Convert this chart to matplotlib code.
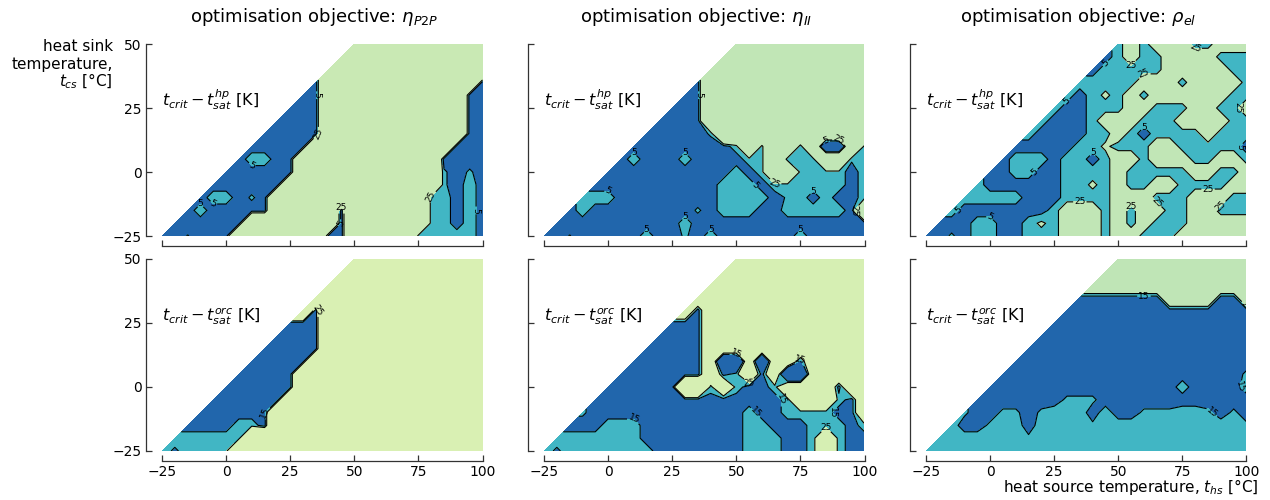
import numpy as np
import matplotlib
matplotlib.use('Agg')
import matplotlib.pyplot as plt

# grid: heat source temperature (x) and heat sink temperature (y), 5 K steps
x_vals = np.arange(-25, 101, 5)
y_rows = np.arange(50, -26, -5)   # rows listed from top (50) to bottom (-25)

titles = [r'optimisation objective: $\eta_{P2P}$',
          r'optimisation objective: $\eta_{II}$',
          r'optimisation objective: $\rho_{el}$']
row_labels = [r'$t_{crit} - t_{sat}^{hp}$ [K]', r'$t_{crit} - t_{sat}^{orc}$ [K]']
levels_hp = [5, 25]
levels_orc = [15, 25]
xticks = [-25, 0, 25, 50, 75, 100]
yticks = [-25, 0, 25, 50]

# class codes per grid point (only valid points x >= y, row y=50 first)
hp_p2p = ["ccccccccccc", "cccccccccccc", "ccccccccccccc", "acccccccccccca",
          "aacccccccccccaa", "aaacccccccccccaa", "aaaacccccccccccaa",
          "aaaaacccccccccccaa", "aaaaacccccccccccaaa", "abbaacccccccccccaaaa",
          "aaaaaaccccccccccctata",
          "aaaaaa" + "cccccccccccc" + "taba",
          "abbata" + "cccccccccccc" + "bbaba",
          "abaaaaa" + "ccccc" + "a" + "cccccc" + "bbaba",
          "aaaaaa" + "ccccccc" + "a" + "cccccc" + "bbaba",
          "aasaaa" + "ccccccc" + "aa" + "ccccc" + "bbbbba"]
hp_ii = ["c" * 11, "c" * 12, "c" * 13, "a" + "c" * 13, "aa" + "c" * 13,
         "aaa" + "c" * 13, "aaaa" + "c" * 13, "aaaaa" + "t" + "c" * 12,
         "aaaaaaaa" + "bcbcctcAAcb", "abaaabaaaa" + "bbctbbcctb",
         "a" * 10 + "babccbbbbab", "a" * 10 + "bbbabbbbbbab",
         "bbb" + "a" * 8 + "bbbb" + "atbabaab",
         "ab" + "a" * 8 + "tabbbaa" + "bbbbb" + "ac",
         "a" * 10 + "b" + "a" * 14,
         "aasaaaaabaataba" + "aaaaa" + "b" + "aaaaa"]
hp_el = ["bcbcccbbccc", "abcbbccccbbb", "abbbbbcccccbb", "bbbbbcccbccccb",
         "babkbcbccccccbb", "baabbbccbbbccbbc", "baaabcccbbbccccbb",
         "baaaabbcbabbbbcbbb", "aaaaabbkbbbccbbbbba", "abbbabbabccbcccbbccb",
         "aabbaabbbbcbbbbbccbbc",
         "baaaaaabbkbc" + "bbccbbbbcc",
         "bbbbbaaabbbbc" + "ccbbbcccbb",
         "baaaaaaabcccbc" + "bccbbccbbb",
         "aaabbaabkbcccbc" + "bcbbbccccc",
         "aatabbaabbbcccbc" + "cbbbcccccc"]
orc_p2p = ["c" * 11, "c" * 12, "c" * 13, "c" * 14, "ca" + "c" * 13,
           "aaa" + "c" * 13, "aaaa" + "c" * 13, "aaaaa" + "c" * 13,
           "aaaaa" + "c" * 14, "aaaaa" + "c" * 15, "aaaaaa" + "c" * 15,
           "aaaaaa" + "c" * 16, "aaaaaa" + "c" * 17, "aaaabba" + "c" * 17,
           "bbbbbb" + "c" * 19, "bwbbbb" + "c" * 20]
orc_ii = ["c" * 11, "c" * 12, "c" * 13, "c" * 14, "ca" + "c" * 13,
          "aaa" + "c" * 13, "aaaa" + "c" * 13, "aaaaa" + "c" * 13,
          "aaaaaa" + "cAAcAccaccccc", "aaaaaaa" + "cabcacAAccccc",
          "aaaaaa" + "CCbcbaabccccacc", "a" * 15 + "bcccbac",
          "t" + "a" * 12 + "baabbbbaac",
          "aaabbba" + "a" * 7 + "bbaaabbbab",
          "bbbbbbba" + "a" * 7 + "bbbaabcbaa",
          "bwbbbbbbb" + "aaaaaaa" + "bbbaabcbaa"]
orc_el = ["c" * 11, "c" * 12, "c" * 13, "aaaaaaa" + "cccc" + "aa" + "c",
          "a" * 15, "a" * 16, "a" * 17, "a" * 18, "a" * 19, "a" * 19 + "t",
          "a" * 15 + "baaaab", "a" * 7 + "ttt" + "a" * 12,
          "taattatbbbabaatttbbtata",
          "baat" + "bba" + "bbbb" + "t" + "b" * 11 + "t",
          "bbbbbbbt" + "b" * 17, "b" * 26]

# value of each class code [K]
hp_strong = {'A': -100, 'a': -5, 's': 6, 't': 8, 'b': 15, 'k': 30, 'c': 150}
hp_soft = {'A': -100, 'a': -5, 's': 6, 't': 8, 'b': 15, 'k': 30, 'c': 45}
orc_strong = {'A': -40, 'a': 10, 'w': 13, 't': 17, 'b': 20, 'c': 100, 'C': 100}
orc_soft = {'A': -40, 'a': 10, 'w': 13, 't': 17, 'b': 20, 'c': 60, 'C': 100}

panels = [
    (hp_p2p, hp_strong, levels_hp, '#c9e9b4'),
    (hp_ii, hp_strong, levels_hp, '#c1e6b6'),
    (hp_el, hp_soft, levels_hp, '#c1e6b6'),
    (orc_p2p, orc_strong, levels_orc, '#d9f0b3'),
    (orc_ii, orc_soft, levels_orc, '#d6efb3'),
    (orc_el, orc_soft, levels_orc, '#bfe5b6'),
]
blue = '#2166ac'
teal = '#41b6c4'


def decode(rows, table):
    Z = np.full((len(y_rows), len(x_vals)), np.nan)
    for i, row in enumerate(rows):
        n = len(row)
        expected = 11 + i
        assert n == expected, (i, n, expected)
        Z[i, len(x_vals) - n:] = [table[ch] for ch in row]
    return Z[::-1]


X, Y = np.meshgrid(x_vals, y_rows[::-1])

W, H = 1270, 500
fig = plt.figure(figsize=(W / 100, H / 100), dpi=100)

col_left = [162, 544, 926]
row_top = [44, 259]
aw, ah = 320.5, 192

for k, (rows, table, lev, green) in enumerate(panels):
    r, c = divmod(k, 3)
    ax = fig.add_axes([col_left[c] / W, 1 - (row_top[r] + ah) / H, aw / W, ah / H])
    Z = np.ma.masked_invalid(decode(rows, table))
    ax.contourf(X, Y, Z, levels=[-1000] + lev + [1000], colors=[blue, teal, green])
    cs = ax.contour(X, Y, Z, levels=lev, colors='k', linewidths=0.8)
    ax.clabel(cs, fmt='%d', fontsize=6.5, inline=True, inline_spacing=1)
    ax.set_xlim(-25, 100)
    ax.set_ylim(-25, 50)
    ax.set_xticks(xticks)
    ax.set_yticks(yticks)
    for s in ['top', 'right']:
        ax.spines[s].set_visible(False)
    ax.spines['left'].set_position(('outward', 11.5))
    ax.spines['bottom'].set_position(('outward', 7.2))
    ax.spines['left'].set_bounds(-25, 50)
    ax.spines['bottom'].set_bounds(-25, 100)
    for s in ['left', 'bottom']:
        ax.spines[s].set_color('#333333')
        ax.spines[s].set_linewidth(0.9)
    ax.tick_params(direction='in', length=4.5, width=0.9, color='#333333',
                   labelsize=10, pad=3)
    if r == 0:
        ax.tick_params(labelbottom=False)
    if c != 0:
        ax.tick_params(labelleft=False)
    ax.text(-25, 25.8, row_labels[r], fontsize=11.5, ha='left', va='baseline')
    if r == 0:
        spine_x = col_left[c] - 16
        fig.text(((spine_x + col_left[c] + aw) / 2) / W, 1 - 21.7 / H, titles[c],
                 fontsize=13, ha='center', va='baseline')

fig.text(113 / W, 1 - 51 / H, 'heat sink', fontsize=11, ha='right', va='baseline')
fig.text(113 / W, 1 - 68.5 / H, 'temperature,', fontsize=11, ha='right', va='baseline')
fig.text(113 / W, 1 - 86 / H, r'$t_{cs}$ [°C]', fontsize=11, ha='right', va='baseline')
fig.text(1258 / W, 1 - 492 / H, r'heat source temperature, $t_{hs}$ [°C]',
         fontsize=11, ha='right', va='baseline')

fig.savefig('out.png', dpi=100)
